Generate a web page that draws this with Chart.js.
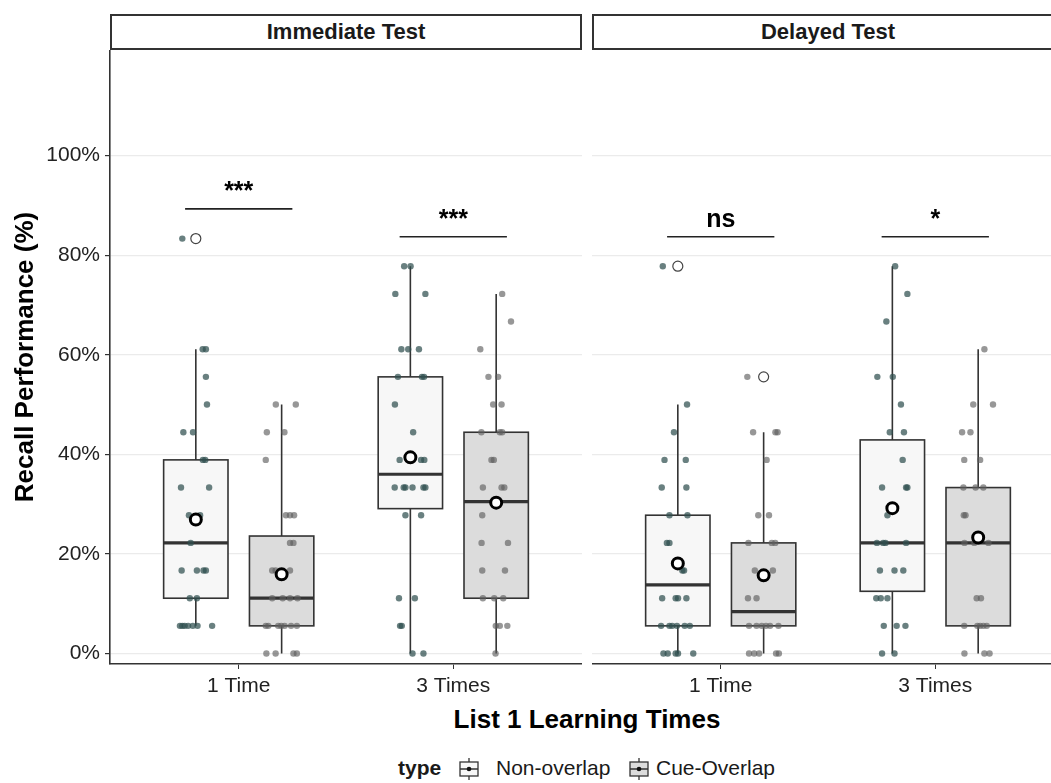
<!DOCTYPE html>
<html>
<head>
<meta charset="utf-8">
<script src="https://cdn.jsdelivr.net/npm/chart.js@4.4.1/dist/chart.umd.min.js"></script>
<style>
  body { margin: 0; width: 1051px; height: 783px; overflow: hidden; background: #fff; position: relative;
         font-family: "Liberation Sans", Arial, sans-serif; }
  canvas { position: absolute; }
  .strip { position: absolute; top: 14px; height: 36px; width: 472px; box-sizing: border-box; border: 2px solid #333;
           background: #fff; text-align: center; font-weight: bold; font-size: 22px; line-height: 32px; color: #1a1a1a; }
  .lbl { position: absolute; font-size: 21px; line-height: 24px; color: #1a1a1a; white-space: nowrap; }
  #xtitle { position: absolute; left: 110px; width: 954px; top: 704px; text-align: center; font-weight: bold;
            font-size: 26px; line-height: 30px; color: #000; }
  .key { position: absolute; top: 758px; }
</style>
</head>
<body>
<div class="strip" style="left:110px">Immediate Test</div>
<div class="strip" style="left:592px">Delayed Test</div>
<canvas id="left" width="582" height="650" style="left:0;top:50px"></canvas>
<canvas id="right" width="472" height="650" style="left:592px;top:50px"></canvas>
<div id="xtitle">List 1 Learning Times</div>
<div class="lbl" style="left:398px;top:756px;font-weight:bold">type</div>
<svg class="key" style="left:458px" width="22" height="22"><line x1="11" y1="0" x2="11" y2="22" stroke="#333" stroke-width="1.3"/><rect x="2" y="4" width="18" height="14" fill="#f7f7f7" stroke="#333" stroke-width="1.3"/><line x1="2" y1="11" x2="20" y2="11" stroke="#333" stroke-width="1.5"/><circle cx="11" cy="11" r="2.3" fill="#111"/></svg>
<div class="lbl" style="left:496px;top:756px">Non-overlap</div>
<svg class="key" style="left:628px" width="22" height="22"><line x1="11" y1="0" x2="11" y2="22" stroke="#333" stroke-width="1.3"/><rect x="2" y="4" width="18" height="14" fill="#dcdcdc" stroke="#333" stroke-width="1.3"/><line x1="2" y1="11" x2="20" y2="11" stroke="#333" stroke-width="1.5"/><circle cx="11" cy="11" r="2.3" fill="#111"/></svg>
<div class="lbl" style="left:656px;top:756px">Cue-Overlap</div>

<script>
// ---- data ----
const categories = ['1 Time', '3 Times'];
const yTicks = [0, 20, 40, 60, 80, 100];

// box stats per category: [lower whisker, Q1, median, Q3, upper whisker]
const immNonBox = [[5.56, 11.11, 22.22, 38.89, 61.11], [0, 29.1, 36.0, 55.56, 77.78]];
const immCueBox = [[0, 5.56, 11.11, 23.6, 50], [0, 11.11, 30.5, 44.44, 72.22]];
const delNonBox = [[0, 5.56, 13.8, 27.78, 50], [0, 12.5, 22.22, 42.9, 77.78]];
const delCueBox = [[0, 5.56, 8.4, 22.22, 44.44], [0, 5.56, 22.22, 33.33, 61.11]];

const immNonMean = [26.9, 39.4];
const immCueMean = [15.9, 30.3];
const delNonMean = [18.1, 29.2];
const delCueMean = [15.7, 23.3];

const immNonOut = [[83.33], []];
const immCueOut = [[], []];
const delNonOut = [[77.78], []];
const delCueOut = [[55.56], []];

// jittered observations: [value, horizontal jitter]
const immNon1 = [[83.33,-0.063],[61.11,0.032],[61.11,0.047],[55.56,0.047],[50,0.052],[44.44,-0.058],[44.44,-0.013],
  [38.89,0.033],[38.89,0.044],[33.33,-0.069],[33.33,0.062],[27.78,-0.032],[27.78,0.02],[22.22,-0.024],
  [16.67,-0.066],[16.67,0.005],[16.67,0.036],[16.67,0.047],[11.11,-0.028],[11.11,0.005],
  [5.56,-0.074],[5.56,-0.063],[5.56,-0.052],[5.56,-0.036],[5.56,-0.014],[5.56,0.008],[5.56,0.076]];
const immCue1 = [[50,-0.027],[50,0.066],[44.44,-0.069],[44.44,0.013],[38.89,-0.074],[27.78,0.02],[27.78,0.039],[27.78,0.058],
  [22.22,0.039],[22.22,0.055],[16.67,-0.044],[16.67,-0.028],[16.67,0.039],[11.11,-0.044],[11.11,0.005],[11.11,0.039],[11.11,0.074],
  [5.56,-0.074],[5.56,-0.062],[5.56,-0.016],[5.56,-0.002],[5.56,0.014],[5.56,0.044],[5.56,0.071],
  [0,-0.071],[0,-0.028],[0,0.055],[0,0.071]];
const immNon3 = [[77.78,-0.029],[77.78,0.001],[72.22,-0.07],[72.22,0.07],[61.11,-0.042],[61.11,-0.01],[61.11,0.04],
  [55.56,-0.058],[55.56,0.054],[55.56,0.064],[50,-0.072],[44.44,0.013],[38.89,-0.05],[38.89,0.05],[38.89,0.065],
  [33.33,-0.073],[33.33,-0.031],[33.33,-0.023],[33.33,0.01],[33.33,0.061],[33.33,0.07],[27.78,-0.023],[27.78,0.05],
  [11.11,-0.053],[11.11,0.021],[5.56,-0.048],[5.56,-0.04],[0,0.01],[0,0.061]];
const immCue3 = [[72.22,0.028],[66.67,0.069],[61.11,-0.074],[55.56,-0.036],[55.56,0.009],[50,-0.014],[50,0.025],
  [44.44,-0.069],[44.44,0.017],[44.44,0.028],[38.89,-0.022],[38.89,-0.011],[33.33,-0.062],[33.33,0.025],[33.33,0.038],
  [27.78,-0.065],[22.22,-0.068],[22.22,0.055],[16.67,-0.065],[16.67,0.041],[11.11,-0.062],[11.11,-0.009],[11.11,0.033],
  [5.56,-0.002],[5.56,0.017],[5.56,0.052],[0,-0.003]];
const delNon1 = [[77.78,-0.07],[50,0.043],[44.44,-0.018],[38.89,-0.062],[38.89,0.037],[33.33,-0.075],[33.33,0.04],
  [27.78,-0.039],[27.78,0.045],[22.22,-0.051],[22.22,-0.039],[16.67,0.021],[16.67,0.029],
  [11.11,-0.073],[11.11,-0.01],[11.11,0.001],[11.11,0.04],
  [5.56,-0.078],[5.56,-0.039],[5.56,-0.026],[5.56,-0.004],[5.56,0.032],[5.56,0.056],
  [0,-0.067],[0,-0.047],[0,-0.01],[0,0.001],[0,0.072]];
const delCue1 = [[55.56,-0.076],[44.44,-0.049],[44.44,0.055],[44.44,0.065],[38.89,0.014],[27.78,-0.025],[27.78,0.025],
  [22.22,-0.071],[22.22,0.038],[22.22,0.054],[16.67,-0.041],[16.67,0.043],[11.11,-0.073],[11.11,-0.033],
  [5.56,-0.068],[5.56,-0.033],[5.56,-0.009],[5.56,0.011],[5.56,0.03],[5.56,0.069],
  [0,-0.068],[0,-0.044],[0,-0.021],[0,0.058],[0,0.071]];
const delNon3 = [[77.78,0.013],[72.22,0.07],[66.67,-0.028],[55.56,-0.07],[55.56,0.002],[50,0.04],[44.44,-0.012],[44.44,0.054],
  [38.89,0.048],[33.33,-0.048],[33.33,0.064],[33.33,0.07],[27.78,-0.023],
  [22.22,-0.072],[22.22,-0.043],[22.22,-0.032],[22.22,0.064],[16.67,-0.058],[16.67,0.01],[16.67,0.051],
  [11.11,-0.075],[11.11,-0.054],[11.11,-0.023],[5.56,-0.04],[5.56,0.02],[5.56,0.061],[0,-0.048],[0,0.01]];
const delCue3 = [[61.11,0.029],[50,-0.023],[50,0.069],[44.44,-0.075],[44.44,-0.036],[38.89,-0.065],[38.89,0.009],
  [33.33,-0.069],[33.33,-0.012],[33.33,0.024],[27.78,-0.067],[27.78,-0.059],[22.22,-0.064],[22.22,-0.018],[22.22,0.048],
  [11.11,-0.007],[11.11,0.013],[5.56,-0.065],[5.56,-0.004],[5.56,0.009],[5.56,0.024],[5.56,0.04],
  [0,-0.064],[0,0.029],[0,0.053]];

// significance brackets: category index, height (%), label
const immSig = [[0, 89.3, '***'], [1, 83.7, '***']];
const delSig = [[0, 83.7, 'ns'], [1, 83.7, '*']];

// ---- drawing ----
const FONT = '"Liberation Sans", Arial, sans-serif';
Chart.defaults.font.family = FONT;
const DODGE = 0.2, HALF = 0.15;
const nonFill = '#f7f7f7', cueFill = '#dcdcdc';

function jitter(pts, shift) {
  return pts.map(p => ({ x: p.cat + 1 + shift + p.j, y: p.v }));
}
function pack(one, three) {
  return one.map(p => ({ cat: 0, v: p[0], j: p[1] })).concat(three.map(p => ({ cat: 1, v: p[0], j: p[1] })));
}
function centers(vals, shift) {
  return vals.map((v, i) => ({ x: i + 1 + shift, y: v }));
}
function outl(outs, shift) {
  const r = [];
  outs.forEach((arr, i) => arr.forEach(v => r.push({ x: i + 1 + shift, y: v })));
  return r;
}

function boxPlugin(groups, sig) {
  return {
    id: 'boxes',
    beforeDatasetsDraw(chart) {
      const { ctx, scales: { x, y } } = chart;
      groups.forEach(g => {
        g.stats.forEach((s, i) => {
          const c = i + 1 + g.shift;
          const xl = x.getPixelForValue(c - HALF), xr = x.getPixelForValue(c + HALF), xc = x.getPixelForValue(c);
          const [lo, q1, med, q3, hi] = s.map(v => y.getPixelForValue(v));
          ctx.save();
          ctx.strokeStyle = '#333';
          ctx.lineWidth = 1.6;
          ctx.beginPath();
          ctx.moveTo(xc, hi); ctx.lineTo(xc, q3);
          ctx.moveTo(xc, q1); ctx.lineTo(xc, lo);
          ctx.stroke();
          ctx.fillStyle = g.fill;
          ctx.fillRect(xl, q3, xr - xl, q1 - q3);
          ctx.strokeRect(xl, q3, xr - xl, q1 - q3);
          ctx.lineWidth = 3.2;
          ctx.beginPath();
          ctx.moveTo(xl, med); ctx.lineTo(xr, med);
          ctx.stroke();
          ctx.restore();
        });
      });
    },
    afterDatasetsDraw(chart) {
      const { ctx, scales: { x, y } } = chart;
      ctx.save();
      sig.forEach(([cat, h, label]) => {
        const yp = y.getPixelForValue(h);
        ctx.strokeStyle = '#222';
        ctx.lineWidth = 1.6;
        ctx.beginPath();
        ctx.moveTo(x.getPixelForValue(cat + 1 - 0.25), yp);
        ctx.lineTo(x.getPixelForValue(cat + 1 + 0.25), yp);
        ctx.stroke();
        ctx.fillStyle = '#000';
        ctx.font = 'bold 25px ' + FONT;
        ctx.textAlign = 'center';
        ctx.textBaseline = 'alphabetic';
        ctx.fillText(label, x.getPixelForValue(cat + 1), yp - 10);
      });
      ctx.restore();
    }
  };
}

function makeChart(id, showY, nonPts, cuePts, nonBox, cueBox, nonMean, cueMean, nonOut, cueOut, sig) {
  const yAxis = {
    type: 'linear', min: -2.1, max: 121.2,
    afterBuildTicks: s => { s.ticks = yTicks.map(v => ({ value: v })); },
    grid: { color: '#ebebeb', lineWidth: 1.2, tickColor: '#333', tickLength: 5, drawTicks: showY },
    border: { display: showY, color: '#333', width: 1.6 },
    ticks: { display: showY, callback: v => v + '%', font: { size: 21 }, color: '#222', padding: 5 },
    title: { display: showY, text: 'Recall Performance (%)', font: { size: 26, weight: 'bold' }, color: '#000',
             padding: { top: 10, bottom: 0 } },
    afterFit: s => { s.width = showY ? 110 : 0; s.paddingTop = 0; s.paddingBottom = 0; }
  };
  return new Chart(document.getElementById(id), {
    type: 'scatter',
    data: {
      datasets: [
        { data: centers(nonMean, -DODGE), pointRadius: 5.5, backgroundColor: '#fff', borderColor: '#000', borderWidth: 3, order: 0 },
        { data: centers(cueMean, DODGE), pointRadius: 5.5, backgroundColor: '#fff', borderColor: '#000', borderWidth: 3, order: 0 },
        { data: jitter(nonPts, -DODGE), pointRadius: 3.2, backgroundColor: 'rgba(47,79,79,0.72)', borderWidth: 0, order: 1 },
        { data: jitter(cuePts, DODGE), pointRadius: 3.2, backgroundColor: 'rgba(95,95,95,0.65)', borderWidth: 0, order: 1 },
        { data: outl(nonOut, -DODGE), pointRadius: 5, backgroundColor: '#fff', borderColor: '#444', borderWidth: 1.2, order: 2 },
        { data: outl(cueOut, DODGE), pointRadius: 5, backgroundColor: '#fff', borderColor: '#444', borderWidth: 1.2, order: 2 }
      ]
    },
    options: {
      responsive: false,
      animation: false,
      layout: { padding: 0, autoPadding: false },
      plugins: { legend: { display: false }, tooltip: { enabled: false } },
      scales: {
        x: {
          type: 'linear', min: 0.4, max: 2.6,
          afterBuildTicks: s => { s.ticks = [{ value: 1 }, { value: 2 }]; },
          grid: { drawOnChartArea: false, drawTicks: true, tickLength: 5, tickColor: '#333', color: '#333' },
          border: { display: true, color: '#333', width: 1.6 },
          ticks: { callback: v => categories[Math.round(v) - 1], font: { size: 21 }, color: '#222', padding: 5,
                   autoSkip: false, maxRotation: 0 },
          afterFit: s => { s.height = 36; s.paddingLeft = 0; s.paddingRight = 0; }
        },
        y: yAxis
      }
    },
    plugins: [boxPlugin([{ stats: nonBox, shift: -DODGE, fill: nonFill }, { stats: cueBox, shift: DODGE, fill: cueFill }], sig)]
  });
}

makeChart('left', true, pack(immNon1, immNon3), pack(immCue1, immCue3), immNonBox, immCueBox,
  immNonMean, immCueMean, immNonOut, immCueOut, immSig);
makeChart('right', false, pack(delNon1, delNon3), pack(delCue1, delCue3), delNonBox, delCueBox,
  delNonMean, delCueMean, delNonOut, delCueOut, delSig);
</script>
</body>
</html>
